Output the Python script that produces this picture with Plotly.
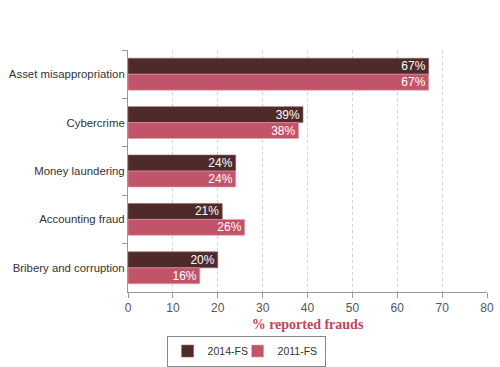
import plotly.graph_objects as go

categories = ["Asset misappropriation", "Cybercrime", "Money laundering", "Accounting fraud", "Bribery and corruption"]
values_2014 = [67, 39, 24, 21, 20]
values_2011 = [67, 38, 24, 26, 16]
x_ticks = [0, 10, 20, 30, 40, 50, 60, 70, 80]

fig = go.Figure()
fig.add_trace(go.Bar(
    y=categories, x=values_2014, orientation="h", name="2014-FS",
    marker=dict(color="#4e2a2b", line=dict(color="#8a6a6a", width=0.6)),
    text=[f"{v}%" for v in values_2014], textposition="inside", insidetextanchor="end",
    constraintext="none", textangle=0, legendwidth=25,
    textfont=dict(color="white", size=12, family="Liberation Sans"),
))
fig.add_trace(go.Bar(
    y=categories, x=values_2011, orientation="h", name="2011-FS",
    marker=dict(color="#c25469", line=dict(color="#e6a0ad", width=0.6)),
    text=[f"{v}%" for v in values_2011], textposition="inside", insidetextanchor="end",
    constraintext="none", textangle=0, legendwidth=42,
    textfont=dict(color="white", size=12, family="Liberation Sans"),
))

fig.update_layout(
    width=500, height=367,
    margin=dict(l=128, r=13, t=50, b=75, autoexpand=False),
    barmode="group", bargap=0.34, bargroupgap=0,
    plot_bgcolor="white", paper_bgcolor="white",
    font=dict(family="Liberation Sans", size=12, color="#333333"),
    legend=dict(
        orientation="h", x=0.329, xanchor="center", y=-0.18, yanchor="top",
        bordercolor="#888888", borderwidth=1, itemwidth=30,
        font=dict(size=10.5, color="#333333"),
    ),
    xaxis=dict(
        range=[0, 80], tickvals=x_ticks, ticks="outside", ticklen=5, tickcolor="#999999",
        showline=True, linecolor="#999999", linewidth=1, automargin=False,
        showgrid=True, gridcolor="#d0d0d0", griddash="dot", gridwidth=1,
        tickfont=dict(size=12, color="#555555"), zeroline=False,
        title=dict(text="<b>% reported frauds</b>", font=dict(family="Liberation Serif", size=14, color="#c0455c"), standoff=4),
    ),
    yaxis=dict(
        autorange="reversed", showline=True, linecolor="#999999", linewidth=1,
        ticks="outside", tickson="boundaries", ticklen=5, tickcolor="#999999",
        tickfont=dict(size=11.4, color="#333333"), showgrid=False, automargin=False,
    ),
)

fig.write_html("out.html", config={"displayModeBar": False},
               post_script="document.body.style.margin='0';document.body.style.overflow='hidden';")
